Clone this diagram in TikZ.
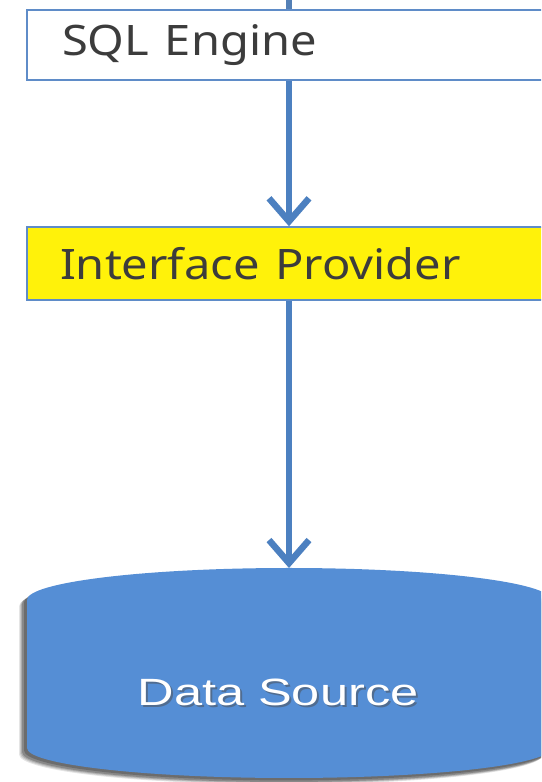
\documentclass[tikz,border=0pt]{standalone}
\usepackage{fontspec}
\newfontfamily\boxfont{Noto Sans}
\newfontfamily\dsfont{Liberation Sans}
\usetikzlibrary{arrows.meta}
\definecolor{arrblue}{RGB}{76,128,192}
\definecolor{boxblue}{RGB}{95,140,200}
\definecolor{cylblue}{RGB}{85,142,213}
\definecolor{boxyellow}{RGB}{255,242,10}
\definecolor{txtgray}{RGB}{60,60,60}
\tikzset{
  flowbox/.style={draw=boxblue, line width=1.5pt, minimum height=70pt,
    inner xsep=35pt, text width=454pt, align=left, text=txtgray,
    font=\boxfont\fontsize{42}{48}\selectfont},
  flowarrow/.style={draw=arrblue, line width=6.5pt,
    -{Straight Barb[length=23pt,width=40pt]}},
  plainline/.style={draw=arrblue!85!gray, line width=5.5pt}
}
\def\cylpath{(27,182) arc[start angle=180,end angle=0,x radius=262,y radius=32] -- (551,34) arc[start angle=0,end angle=-180,x radius=262,y radius=30] -- cycle}
\begin{document}
\begin{tikzpicture}[x=1pt,y=1pt]
\clip (0,0) rectangle (541,782);
\fill[white] (0,0) rectangle (541,782);
% boxes
\node[flowbox, fill=white] (sql) at (289,737) {\scalebox{1.12}[1]{SQL Engine}};
\node[flowbox, fill=boxyellow, minimum height=73pt, inner xsep=33pt, text width=458pt] (iface) at (289,518.5) {\scalebox{1.12}[1]{Interface Provider}};
% cylinder with shadow
\foreach \s/\o in {8/0.10,7/0.12,6/0.15,5/0.2,3/0.2}{
  \fill[black, opacity=\o, shift={(-\s,-0.8*\s)}] \cylpath;
}
\fill[cylblue] \cylpath;
\coordinate (dstop) at (289,214);
\coordinate (topin) at (289,782);
\node[text=black!70, opacity=0.5, font=\dsfont\fontsize{38}{44}\selectfont] at (280,88) {\scalebox{1.33}[1]{Data Source}};
\node[text=white, font=\dsfont\fontsize{38}{44}\selectfont] (ds) at (278,90) {\scalebox{1.33}[1]{Data Source}};
% connectors
\draw[plainline] (topin) -- (sql.north);
\draw[flowarrow] (sql.south) -- (iface.north);
\draw[flowarrow] (iface.south) -- (dstop);
\end{tikzpicture}
\end{document}
